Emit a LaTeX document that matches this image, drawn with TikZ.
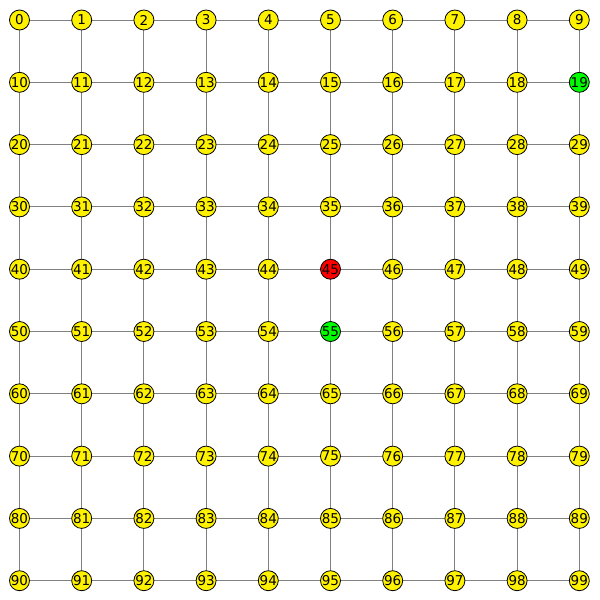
\documentclass[tikz,border=0pt]{standalone}
\usepackage{fontspec}
\setmainfont{DejaVu Sans}
\usetikzlibrary{backgrounds}
\begin{document}
\begin{tikzpicture}[x=1pt,y=1pt,
  vtx/.style={circle,draw=black,line width=0.8pt,fill=yellow,minimum size=20pt,inner sep=0pt,font=\fontsize{13.5}{13.5}\selectfont},
  hot/.style={fill=red},
  goal/.style={fill=green},
  edge/.style={draw=gray,line width=1pt}]
\useasboundingbox (0,0) rectangle (600,-600);
\foreach \r in {0,...,9}{
  \foreach \c in {0,...,9}{
    \pgfmathtruncatemacro{\n}{\r*10+\c}
    \ifnum\n=45 \def\st{hot}\else\ifnum\n=55 \def\st{goal}\else\ifnum\n=19 \def\st{goal}\else\def\st{}\fi\fi\fi
    \node[vtx,\st] (n\n) at ({19.5+\c*62.2},{-20-\r*62.3}) {\n};
  }
}
\begin{scope}[on background layer]
\foreach \r in {0,...,9}{
  \foreach \c in {0,...,8}{
    \pgfmathtruncatemacro{\a}{\r*10+\c}
    \pgfmathtruncatemacro{\b}{\r*10+\c+1}
    \draw[edge] (n\a.center) -- (n\b.center);
  }
}
\foreach \r in {0,...,8}{
  \foreach \c in {0,...,9}{
    \pgfmathtruncatemacro{\a}{\r*10+\c}
    \pgfmathtruncatemacro{\b}{\r*10+\c+10}
    \draw[edge] (n\a.center) -- (n\b.center);
  }
}
\end{scope}
\end{tikzpicture}
\end{document}
